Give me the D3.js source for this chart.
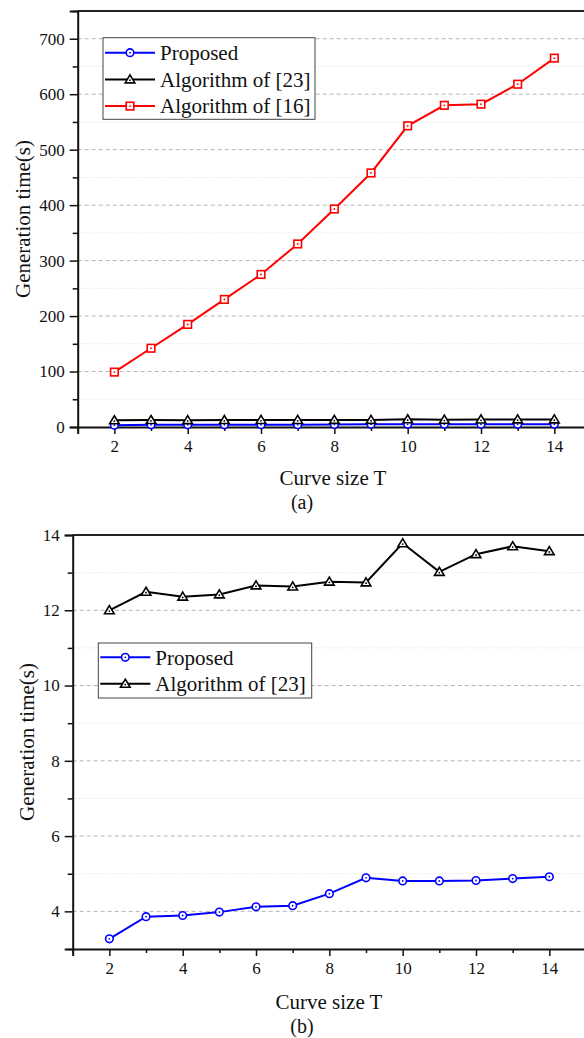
<!DOCTYPE html>
<html>
<head>
<meta charset="utf-8">
<script src="https://cdn.jsdelivr.net/npm/d3@7"></script>
<style>
  html, body { margin: 0; padding: 0; background: #fff; }
  svg { display: block; overflow: hidden; }
  svg text { font-family: "Liberation Serif", "Times New Roman", Times, "DejaVu Serif", serif !important; fill: #111; }
</style>
</head>
<body>
<svg id="fig" width="584" height="1038"></svg>
<script>
// Curve sizes
const curveSize = [2, 3, 4, 5, 6, 7, 8, 9, 10, 11, 12, 13, 14];

// Generation time (s) per method
const proposed = [3.27, 3.86, 3.89, 3.98, 4.12, 4.15, 4.47, 4.89, 4.81, 4.81, 4.82, 4.87, 4.92];
const alg23    = [12.0, 12.49, 12.36, 12.42, 12.66, 12.63, 12.76, 12.74, 13.78, 13.02, 13.49, 13.70, 13.57];
const alg16    = [99, 142, 185, 230, 275, 330, 393, 458, 543, 580, 582, 618, 665];

// Tick labels
const xMajorTicks = [2, 4, 6, 8, 10, 12, 14];
const xMinorTicks = [1, 3, 5, 7, 9, 11, 13, 15];
const yMajorTicksA = [0, 100, 200, 300, 400, 500, 600, 700];
const yMinorTicksA = [50, 150, 250, 350, 450, 550, 650, 750];
const yMajorTicksB = [4, 6, 8, 10, 12, 14];
const yMinorTicksB = [3, 5, 7, 9, 11, 13];

const FONT = '"Liberation Serif", "Times New Roman", Times, serif';

const seriesStyle = {
  proposed: { name: "Proposed", color: "#0000ff", marker: "circle" },
  alg23: { name: "Algorithm of [23]", color: "#000000", marker: "triangle" },
  alg16: { name: "Algorithm of [16]", color: "#ff0000", marker: "square" }
};

const svg = d3.select("#fig");

function drawMarker(g, type, color, x, y) {
  if (type === "circle") {
    g.append("circle").attr("cx", x).attr("cy", y).attr("r", 3.8)
      .attr("fill", "#fff").attr("stroke", color).attr("stroke-width", 1.6);
  } else if (type === "triangle") {
    const h = 4.6;
    g.append("path")
      .attr("d", `M${x},${y - h} L${x + h * 1.05},${y + h * 0.75} L${x - h * 1.05},${y + h * 0.75} Z`)
      .attr("fill", "#fff").attr("stroke", color).attr("stroke-width", 1.6)
      .attr("stroke-linejoin", "miter");
  } else if (type === "square") {
    g.append("rect").attr("x", x - 3.8).attr("y", y - 3.8).attr("width", 7.6).attr("height", 7.6)
      .attr("fill", "#fff").attr("stroke", color).attr("stroke-width", 1.6);
  }
  g.append("circle").attr("cx", x).attr("cy", type === "triangle" ? y + 0.8 : y).attr("r", 0.9).attr("fill", color);
}

function drawPanel(cfg) {
  const g = svg.append("g");
  const x = d3.scaleLinear().domain([1, 15]).range(cfg.xRange);
  const y = d3.scaleLinear().domain(cfg.yDomain).range(cfg.yRange);
  const left = cfg.xRange[0];
  const bottom = cfg.yRange[0];
  const top = cfg.yRange[1];

  // grid lines
  g.append("g").selectAll("line").data(cfg.yMinor.filter(v => v > cfg.yDomain[0] && v < cfg.yDomain[1]))
    .join("line")
    .attr("x1", left).attr("x2", 584).attr("y1", d => y(d)).attr("y2", d => y(d))
    .attr("stroke", "#dcdcdc").attr("stroke-width", 1).attr("stroke-dasharray", "1,2");
  g.append("g").selectAll("line").data(cfg.yMajor.filter(v => v > cfg.yDomain[0] && v < cfg.yDomain[1]))
    .join("line")
    .attr("x1", left).attr("x2", 584).attr("y1", d => y(d)).attr("y2", d => y(d))
    .attr("stroke", "#b4b4b4").attr("stroke-width", 1).attr("stroke-dasharray", "4,3");

  // top frame
  g.append("line").attr("x1", left).attr("x2", 584).attr("y1", top).attr("y2", top)
    .attr("stroke", "#222").attr("stroke-width", 2);

  // x axis
  const xMaj = g.append("g").attr("transform", `translate(0,${bottom})`)
    .call(d3.axisBottom(x).tickValues(xMajorTicks).tickSize(7).tickPadding(6).tickFormat(d3.format("d")));
  g.append("g").attr("transform", `translate(0,${bottom})`)
    .call(d3.axisBottom(x).tickValues(xMinorTicks).tickSize(4).tickFormat(""))
    .call(a => a.select(".domain").remove());
  xMaj.attr("font-family", FONT).attr("font-size", 17);
  xMaj.select(".domain").attr("stroke", "#111").attr("stroke-width", 2);

  // y axis
  const yMaj = g.append("g").attr("transform", `translate(${left},0)`)
    .call(d3.axisLeft(y).tickValues(cfg.yMajor).tickSize(8).tickPadding(5).tickFormat(d3.format("d")));
  g.append("g").attr("transform", `translate(${left},0)`)
    .call(d3.axisLeft(y).tickValues(cfg.yMinor).tickSize(5).tickFormat(""))
    .call(a => a.select(".domain").remove());
  yMaj.attr("font-family", FONT).attr("font-size", 17);
  yMaj.select(".domain").attr("stroke", "#111").attr("stroke-width", 2);
  g.selectAll(".tick line").attr("stroke", "#111").attr("stroke-width", 1.5);

  // series
  const line = d3.line().x(d => x(d[0])).y(d => y(d[1]));
  cfg.series.forEach(s => {
    const st = seriesStyle[s.key];
    const pts = curveSize.map((c, i) => [c, s.values[i]]);
    g.append("path").datum(pts).attr("d", line)
      .attr("fill", "none").attr("stroke", st.color).attr("stroke-width", 2);
    const mg = g.append("g");
    pts.forEach(p => drawMarker(mg, st.marker, st.color, x(p[0]), y(p[1])));
  });

  // legend
  const L = cfg.legend;
  g.append("rect").attr("x", L.x).attr("y", L.y).attr("width", L.w).attr("height", L.h)
    .attr("fill", "#fff").attr("stroke", "#444").attr("stroke-width", 1);
  cfg.series.forEach((s, i) => {
    const st = seriesStyle[s.key];
    const cy = L.row0 + i * L.rowGap;
    const lg = g.append("g");
    lg.append("line").attr("x1", L.x + 2).attr("x2", L.x + 52).attr("y1", cy).attr("y2", cy)
      .attr("stroke", st.color).attr("stroke-width", 2);
    drawMarker(lg, st.marker, st.color, L.x + 27, cy);
    lg.append("text").attr("x", L.x + 57).attr("y", cy).attr("dy", "0.35em")
      .attr("font-family", FONT).attr("font-size", 21).text(st.name);
  });

  // titles
  g.append("text").attr("transform", `translate(${cfg.yTitle[0]},${cfg.yTitle[1]}) rotate(-90)`)
    .attr("text-anchor", "middle").attr("dy", "0.35em").attr("font-family", FONT).attr("font-size", 21)
    .text("Generation time(s)");
  g.append("text").attr("x", cfg.xTitle[0]).attr("y", cfg.xTitle[1]).attr("dy", "0.35em")
    .attr("text-anchor", "middle").attr("font-family", FONT).attr("font-size", 21).text("Curve size T");
  g.append("text").attr("x", cfg.caption[0]).attr("y", cfg.caption[1]).attr("dy", "0.35em")
    .attr("text-anchor", "middle").attr("font-family", FONT).attr("font-size", 20).text(cfg.captionText);
}

// (a) all three methods
drawPanel({
  xRange: [77.7, 591],
  yDomain: [0, 750],
  yRange: [427, 11],
  yMajor: yMajorTicksA,
  yMinor: yMinorTicksA,
  series: [
    { key: "proposed", values: proposed },
    { key: "alg23", values: alg23 },
    { key: "alg16", values: alg16 }
  ],
  legend: { x: 103, y: 37.7, w: 212, h: 81.6, row0: 52.7, rowGap: 26.7 },
  yTitle: [23, 219],
  xTitle: [333, 478],
  caption: [302, 502],
  captionText: "(a)"
});

// (b) proposed vs. [23]
drawPanel({
  xRange: [72.7, 586],
  yDomain: [3, 14],
  yRange: [949, 535],
  yMajor: yMajorTicksB,
  yMinor: yMinorTicksB,
  series: [
    { key: "proposed", values: proposed },
    { key: "alg23", values: alg23 }
  ],
  legend: { x: 98.3, y: 643, w: 213.4, h: 55, row0: 657.3, rowGap: 26.5 },
  yTitle: [27, 742],
  xTitle: [329, 1002],
  caption: [302, 1026],
  captionText: "(b)"
});
</script>
</body>
</html>
